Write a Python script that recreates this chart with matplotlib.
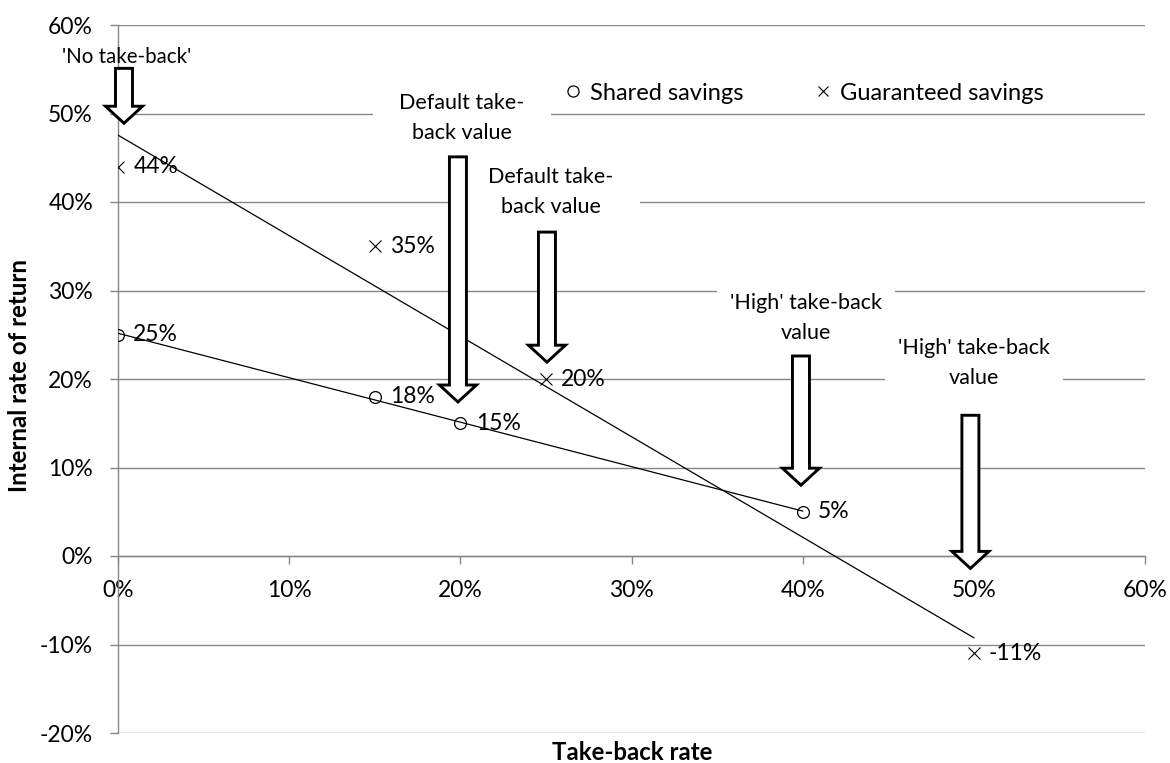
import numpy as np
import matplotlib
matplotlib.use("Agg")
import matplotlib.pyplot as plt
from matplotlib.patches import Polygon, Rectangle
from matplotlib.lines import Line2D

plt.rcParams['font.family'] = ['Lato', 'DejaVu Sans']

# ---- data -------------------------------------------------------------
shared_x = np.array([0, 15, 20, 40])          # take-back rate (%)
shared_y = np.array([25, 18, 15, 5])          # IRR (%)
guaranteed_x = np.array([0, 15, 25, 50])
guaranteed_y = np.array([44, 35, 20, -11])

x_ticks = [0, 10, 20, 30, 40, 50, 60]
x_tick_labels = ['0%', '10%', '20%', '30%', '40%', '50%', '60%']
y_ticks = [-20, -10, 0, 10, 20, 30, 40, 50, 60]
y_tick_labels = ['-20%', '-10%', '0%', '10%', '20%', '30%', '40%', '50%', '60%']

# callouts: text, text centre (x, y), arrow x, arrow top y, arrow tip y
callout_text = ["Default take-\nback value", "Default take-\nback value",
                "'High' take-back\nvalue", "'High' take-back\nvalue"]
callout_pos = [(20.1, 49.5), (25.3, 41.1), (40.2, 26.9), (50.0, 21.8)]
arrow_x = [0.35, 19.86, 25.06, 39.9, 49.8]
arrow_top = [55.1, 45.1, 36.6, 22.6, 15.9]
arrow_tip = [48.9, 17.4, 21.9, 8.0, -1.4]

GRID = '#878787'

# ---- figure -----------------------------------------------------------
W, H = 1170, 763
fig = plt.figure(figsize=(W / 100, H / 100), dpi=100)
ax = fig.add_axes([118 / W, 1 - 733 / H, 1027 / W, 708 / H])
ax.set_xlim(0, 60)
ax.set_ylim(-20, 60)

# data units per pixel
sx = 60 / 1027
sy = 80 / 708

ax.set_axisbelow(True)
ax.yaxis.grid(True, color=GRID, linewidth=1.0)
for side in ('top', 'right'):
    ax.spines[side].set_visible(False)
ax.spines['left'].set_color(GRID)
ax.spines['bottom'].set_color(GRID)
ax.spines['left'].set_linewidth(1.0)
ax.spines['bottom'].set_linewidth(1.0)
ax.spines['bottom'].set_position(('data', 0))

ax.set_xticks(x_ticks)
ax.set_xticklabels(x_tick_labels)
ax.set_yticks(y_ticks)
ax.set_yticklabels(y_tick_labels)
ax.tick_params(axis='both', colors=GRID, labelcolor='black', labelsize=16.5,
               length=6, width=1.0, direction='out')
ax.tick_params(axis='y', pad=12)
ax.tick_params(axis='x', pad=11)

# ---- series -------------------------------------------------------------
for xs, ys in ((shared_x, shared_y), (guaranteed_x, guaranteed_y)):
    slope, intercept = np.polyfit(xs, ys, 1)
    xl = np.array([xs.min(), xs.max()])
    ax.plot(xl, slope * xl + intercept, color='black', linewidth=0.9, zorder=3)

ax.plot(shared_x, shared_y, linestyle='none', marker='o', markersize=8.5,
        markerfacecolor='none', markeredgecolor='black', markeredgewidth=0.9,
        zorder=4)
ax.plot(guaranteed_x, guaranteed_y, linestyle='none', marker='x', markersize=8,
        markeredgecolor='black', markeredgewidth=0.8, zorder=4)

for xs, ys in ((shared_x, shared_y), (guaranteed_x, guaranteed_y)):
    for xv, yv in zip(xs, ys):
        ax.annotate(f'{yv}%', (xv, yv), xytext=(11, 0), textcoords='offset points',
                    va='center', ha='left', fontsize=16.5, zorder=5)

# ---- callout boxes and block arrows --------------------------------------
box_w, box_h = 178 * sx, 62 * sy
for txt, (cx, cy) in zip(callout_text, callout_pos):
    ax.add_patch(Rectangle((cx - box_w / 2, cy - box_h / 2), box_w, box_h,
                           facecolor='white', edgecolor='none', zorder=2))
    ax.text(cx, cy, txt, ha='center', va='center', fontsize=15.5,
            linespacing=1.6, zorder=5)

ax.text(0.53, 56.4, "'No take-back'", ha='center', va='center', fontsize=14.8,
        zorder=5, clip_on=False)

hw, hh, hl = 8.5 * sx, 18.5 * sx, 17 * sy
for xa, yt, yp in zip(arrow_x, arrow_top, arrow_tip):
    yb = yp + hl
    verts = [(xa - hw, yt), (xa + hw, yt), (xa + hw, yb), (xa + hh, yb),
             (xa, yp), (xa - hh, yb), (xa - hw, yb)]
    ax.add_patch(Polygon(verts, closed=True, facecolor='white', edgecolor='black',
                         linewidth=2.1, joinstyle='miter', zorder=6, clip_on=False))

# ---- legend ---------------------------------------------------------------
handles = [Line2D([], [], linestyle='none', marker='o', markersize=8,
                  markerfacecolor='none', markeredgecolor='black', markeredgewidth=0.9),
           Line2D([], [], linestyle='none', marker='x', markersize=7.5,
                  markeredgecolor='black', markeredgewidth=0.8)]
ax.legend(handles, ['Shared savings', 'Guaranteed savings'], ncol=2,
          loc='center left', bbox_to_anchor=(566 / W, 1 - 93 / H),
          bbox_transform=fig.transFigure, frameon=False, fontsize=17,
          handlelength=0.6, handletextpad=0.4, columnspacing=3.1,
          borderpad=0, borderaxespad=0)

# ---- axis titles ------------------------------------------------------------
fig.text(20 / W, 1 - 375 / H, 'Internal rate of return', rotation=90,
         ha='center', va='center', fontsize=17.3, fontweight='bold')
fig.text(632 / W, 1 - 753 / H, 'Take-back rate', ha='center', va='center',
         fontsize=17.3, fontweight='bold')

fig.savefig('out.png', dpi=100, facecolor='white')
